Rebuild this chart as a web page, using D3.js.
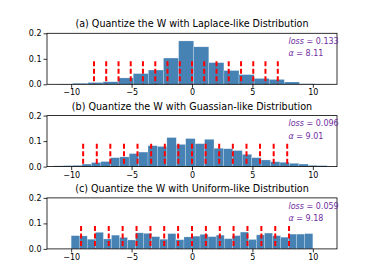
<!DOCTYPE html>
<html>
<head>
<meta charset="utf-8">
<script src="https://cdn.jsdelivr.net/npm/d3@7"></script>
<style>
  html, body { margin: 0; padding: 0; background: #fff; }
  svg { display: block; font-family: "DejaVu Sans", sans-serif; }
</style>
</head>
<body>
<svg id="chart" width="374" height="280"></svg>
<script>
// ---------- data ----------
const titles = [
  "(a) Quantize the W with Laplace-like Distribution",
  "(b) Quantize the W with Guassian-like Distribution",
  "(c) Quantize the W with Uniform-like Distribution"
];
const losses = ["0.133", "0.096", "0.059"];
const alphas = ["8.11", "9.01", "9.18"];

const laplaceEdges = [-11.11, -9.86, -8.61, -7.36, -6.11, -4.86, -3.61, -2.36, -1.11, 0.14,
  1.39, 2.64, 3.89, 5.14, 6.39, 7.64, 8.89, 10.14, 11.39];
const laplaceValues = [0.001, 0.004, 0.007, 0.010, 0.025, 0.042, 0.056, 0.103, 0.170, 0.147,
  0.085, 0.054, 0.038, 0.023, 0.019, 0.009, 0.002, 0.001];

const gaussEdges = [-11.44, -10.66, -9.88, -9.10, -8.32, -7.54, -6.76, -5.98, -5.20, -4.42,
  -3.64, -2.86, -2.08, -1.30, -0.52, 0.26, 1.04, 1.82, 2.60, 3.38, 4.16, 4.94, 5.72, 6.50,
  7.28, 8.06, 8.84, 9.62, 10.40, 11.18];
const gaussValues = [0.003, 0.004, 0.005, 0.010, 0.016, 0.020, 0.035, 0.038, 0.051, 0.057,
  0.082, 0.079, 0.114, 0.087, 0.110, 0.090, 0.107, 0.072, 0.070, 0.063, 0.048, 0.035, 0.026,
  0.019, 0.017, 0.013, 0.010, 0.005, 0.004];

const uniformEdges = [-10, -9.333, -8.667, -8, -7.333, -6.667, -6, -5.333, -4.667, -4,
  -3.333, -2.667, -2, -1.333, -0.667, 0, 0.667, 1.333, 2, 2.667, 3.333, 4, 4.667, 5.333,
  6, 6.667, 7.333, 8, 8.667, 9.333, 10];
const uniformValues = [0.052, 0.051, 0.038, 0.065, 0.039, 0.054, 0.045, 0.035, 0.063, 0.061,
  0.048, 0.038, 0.060, 0.036, 0.047, 0.050, 0.057, 0.048, 0.054, 0.040, 0.052, 0.066, 0.037,
  0.055, 0.062, 0.052, 0.046, 0.058, 0.058, 0.060];

const laplaceLevels = [-8.11, -7.10, -6.08, -5.07, -4.06, -3.04, -2.03, -1.01, 0, 1.01, 2.03, 3.04, 4.06, 5.07, 6.08, 7.10];
const gaussLevels = [-9.01, -7.88, -6.76, -5.63, -4.51, -3.38, -2.25, -1.13, 0, 1.13, 2.25, 3.38, 4.51, 5.63, 6.76, 7.88];
const uniformLevels = [-9.18, -8.03, -6.89, -5.74, -4.59, -3.44, -2.30, -1.15, 0, 1.15, 2.30, 3.44, 4.59, 5.74, 6.89, 8.03];
const levelHeight = 0.09;

const xTicks = [-10, -5, 0, 5, 10];
const yTicks = [0, 0.1, 0.2];

const panels = [
  { edges: laplaceEdges, values: laplaceValues, levels: laplaceLevels },
  { edges: gaussEdges, values: gaussValues, levels: gaussLevels },
  { edges: uniformEdges, values: uniformValues, levels: uniformLevels }
];

// ---------- layout ----------
const svg = d3.select("#chart");
const left = 47, right = 337;
const tops = [33.3, 115.6, 197.9];
const ph = 51;
const barColor = "#4682b4";
const textColor = "#7030a0";

const x = d3.scaleLinear().domain([-12, 12]).range([left, right]);

panels.forEach((p, i) => {
  const top = tops[i];
  const y = d3.scaleLinear().domain([0, 0.2]).range([top + ph, top]);
  const g = svg.append("g");

  const bins = p.values.map((v, k) => ({ x0: p.edges[k], x1: p.edges[k + 1], v }));
  g.selectAll("rect.bar").data(bins).enter().append("rect")
    .attr("class", "bar")
    .attr("x", d => x(d.x0))
    .attr("width", d => x(d.x1) - x(d.x0))
    .attr("y", d => y(d.v))
    .attr("height", d => y(0) - y(d.v))
    .attr("fill", barColor)
    .attr("stroke", "#ffffff")
    .attr("stroke-opacity", 0.45)
    .attr("stroke-width", 0.5);

  g.selectAll("line.lvl").data(p.levels).enter().append("line")
    .attr("class", "lvl")
    .attr("x1", d => x(d)).attr("x2", d => x(d))
    .attr("y1", y(levelHeight)).attr("y2", y(0))
    .attr("stroke", "#ff0000")
    .attr("stroke-width", 2)
    .attr("stroke-dasharray", "5,2.5");

  // axes
  const xa = g.append("g").attr("transform", `translate(0,${top + ph})`)
    .call(d3.axisBottom(x).tickValues(xTicks).tickSize(3.5).tickPadding(2));
  const ya = g.append("g").attr("transform", `translate(${left},0)`)
    .call(d3.axisLeft(y).tickValues(yTicks).tickFormat(d3.format(".1f")).tickSize(3.5).tickPadding(2));
  [xa, ya].forEach(a => {
    a.select(".domain").remove();
    a.selectAll("text").attr("font-size", "8px").attr("fill", "#000").attr("font-family", "DejaVu Sans");
    a.selectAll("line").attr("stroke", "#000").attr("stroke-width", 0.8);
  });

  // frame
  g.append("rect")
    .attr("x", left).attr("y", top)
    .attr("width", right - left).attr("height", ph)
    .attr("fill", "none").attr("stroke", "#000").attr("stroke-width", 0.8);

  // title
  g.append("text")
    .attr("x", (left + right) / 2).attr("y", top - 6)
    .attr("text-anchor", "middle")
    .attr("font-size", "9.6px")
    .text(titles[i]);

  // annotations
  const t1 = g.append("text").attr("x", 288.5).attr("y", top + 10.6)
    .attr("font-size", "8px").attr("fill", textColor);
  t1.append("tspan").attr("font-style", "italic").text("loss");
  t1.append("tspan").text(" = " + losses[i]);
  const t2 = g.append("text").attr("x", 288.5).attr("y", top + 23)
    .attr("font-size", "8px").attr("fill", textColor);
  t2.append("tspan").attr("font-style", "italic").text("α");
  t2.append("tspan").text(" = " + alphas[i]);
});
</script>
</body>
</html>
